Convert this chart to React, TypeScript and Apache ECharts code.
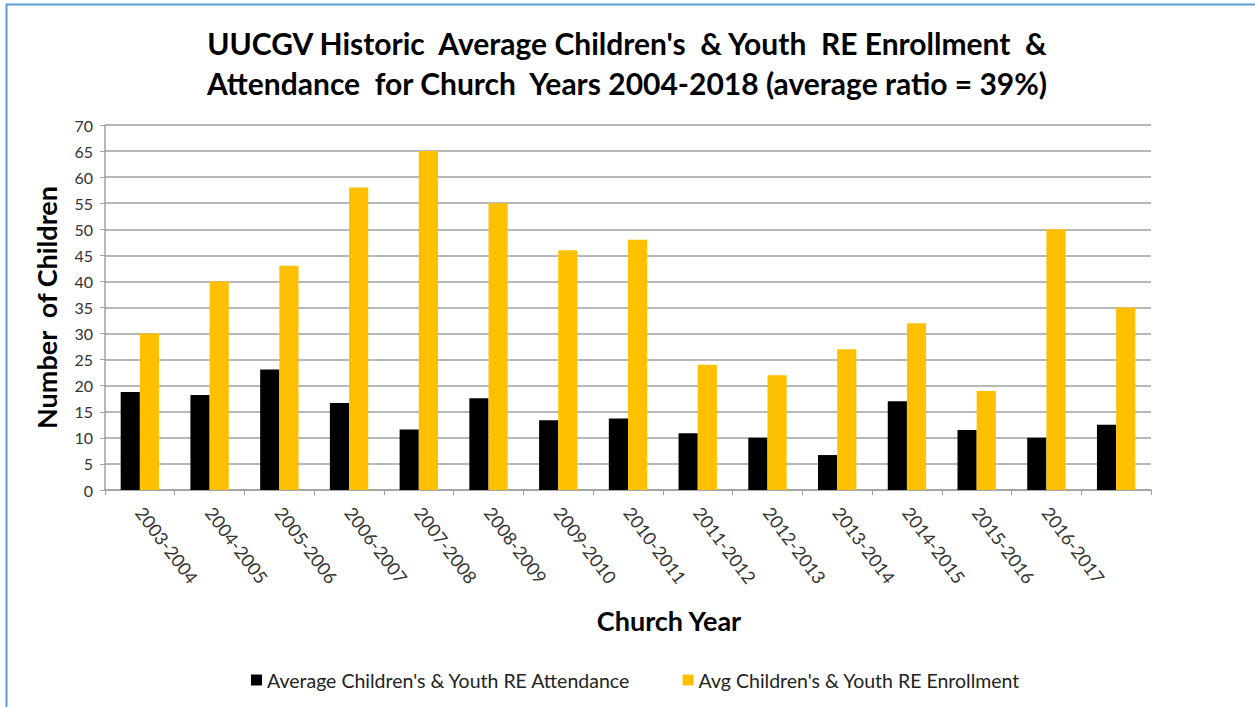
import React, { useEffect, useRef } from "react";
import * as echarts from "echarts";

const categories = [
  "2003-2004", "2004-2005", "2005-2006", "2006-2007", "2007-2008",
  "2008-2009", "2009-2010", "2010-2011", "2011-2012", "2012-2013",
  "2013-2014", "2014-2015", "2015-2016", "2016-2017", "",
];
const attendance = [18.8, 18.2, 23.1, 16.7, 11.6, 17.6, 13.4, 13.7, 10.9, 10.0, 6.7, 17.0, 11.5, 10.0, 12.5];
const enrollment = [30, 40, 43, 58, 65, 55, 46, 48, 24, 22, 27, 32, 19, 50, 35];
const seriesNames = ["Average Children's & Youth RE Attendance", "Avg Children's & Youth RE Enrollment"];
const titleText = "UUCGV Historic  Average Children's  & Youth  RE Enrollment  &\nAttendance  for Church  Years 2004-2018 (average ratio = 39%)";
const xAxisTitle = "Church Year";
const yAxisTitle = "Number  of Children";

const FONT = "Lato, 'Open Sans', sans-serif";

export default function App() {
  const ref = useRef<HTMLDivElement>(null);
  useEffect(() => {
    if (!ref.current) return;
    const chart = echarts.init(ref.current, undefined, { renderer: "svg" });
    chart.setOption({
      animation: false,
      backgroundColor: "#ffffff",
      textStyle: { fontFamily: FONT },
      title: {
        text: titleText,
        left: 622,
        top: 18,
        textAlign: "center",
        textStyle: { fontFamily: FONT, fontSize: 30, fontWeight: "bold", color: "#000", lineHeight: 40 },
      },
      legend: {
        data: seriesNames,
        bottom: 12,
        left: 246,
        itemWidth: 11,
        itemHeight: 11,
        itemGap: 52,
        icon: "rect",
        textStyle: { fontFamily: FONT, fontSize: 19.5, color: "#222" },
      },
      grid: { left: 105, right: 104, top: 125, bottom: 217, containLabel: false },
      xAxis: {
        type: "category",
        data: categories,
        axisLine: { lineStyle: { color: "#a0a0a0", width: 1.5 } },
        axisTick: { show: true, length: 5, lineStyle: { color: "#a0a0a0" } },
        axisLabel: { rotate: -53, fontSize: 18, color: "#333", margin: 19, interval: 0, fontFamily: FONT },
      },
      yAxis: {
        type: "value",
        min: 0,
        max: 70,
        interval: 5,
        name: yAxisTitle,
        nameLocation: "middle",
        nameGap: 45,
        nameTextStyle: { fontFamily: FONT, fontSize: 27, fontWeight: "bold", color: "#000" },
        axisLine: { show: true, lineStyle: { color: "#a0a0a0", width: 1.5 } },
        axisTick: { show: true, length: 5, lineStyle: { color: "#a0a0a0" } },
        axisLabel: { fontSize: 16, color: "#333", margin: 12, fontFamily: FONT },
        splitLine: { lineStyle: { color: "#a0a0a0", width: 1.5 } },
      },
      series: [
        {
          name: seriesNames[0],
          type: "bar",
          data: attendance,
          itemStyle: { color: "#000000" },
          barGap: "0%",
          barCategoryGap: "45%",
        },
        {
          name: seriesNames[1],
          type: "bar",
          data: enrollment,
          itemStyle: { color: "#FFC000" },
          barGap: "0%",
          barCategoryGap: "45%",
        },
      ],
      graphic: [
        { type: "line", shape: { x1: 6, y1: 4.5, x2: 1255, y2: 4.5 }, style: { stroke: "#5B9BD5", lineWidth: 2 } },
        { type: "line", shape: { x1: 6.5, y1: 4, x2: 6.5, y2: 707 }, style: { stroke: "#5B9BD5", lineWidth: 2 } },
        {
          type: "text",
          x: 669,
          y: 620,
          style: {
            text: xAxisTitle,
            fontFamily: FONT,
            fontSize: 27,
            fontWeight: "bold",
            fill: "#000",
            align: "center",
            verticalAlign: "middle",
          },
        },
      ],
    });
    return () => chart.dispose();
  }, []);
  return (
    <div style={{ position: "fixed", left: 0, top: 0, width: 1255, height: 707 }}>
      <div ref={ref} style={{ width: 1255, height: 707 }} />
    </div>
  );
}
